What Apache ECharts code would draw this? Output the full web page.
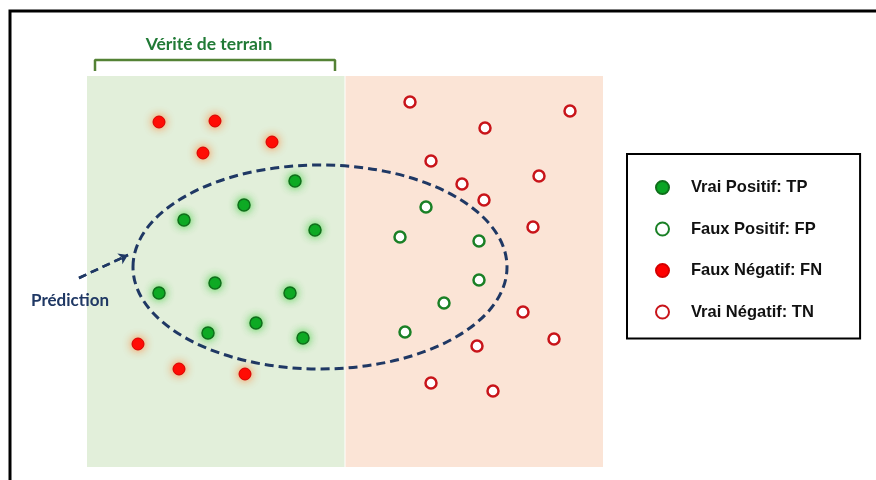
<!DOCTYPE html>
<html><head><meta charset="utf-8">
<script src="https://cdn.jsdelivr.net/npm/echarts@6/dist/echarts.min.js"></script>
<style>html,body{margin:0;padding:0;background:#fff}#c{width:876px;height:480px}</style>
</head><body><div id="c"></div>
<script>
// Data (diagram coordinate space: x 0..876, y 0..480 downward)
const seriesNames = ['Vrai Positif: TP', 'Faux Positif: FP', 'Faux Négatif: FN', 'Vrai Négatif: TN'];
const truePositive = [[295,181],[244,205],[184,220],[315,230],[159,293],[215,283],[290,293],[208,333],[256,323],[303,338]];
const falsePositive = [[426,207],[400,237],[479,241],[479,280],[444,303],[405,332]];
const falseNegative = [[159,122],[215,121],[272,142],[203,153],[138,344],[179,369],[245,374]];
const trueNegative = [[410,102],[570,111],[485,128],[431,161],[539,176],[462,184],[484,200],[533,227],[523,312],[554,339],[477,346],[431,383],[493,391]];
const predictionEllipse = [[320,267,187,102]]; // cx, cy, rx, ry
const groundTruthRegion = [[87,76],[344.5,467]];
const negativeRegion = [[345.5,76],[603,467]];
const bracketPath = [[95,71],[95,60],[335,60],[335,71]];
const arrowPath = [[79,278],[128,255]];
const titleText = 'Vérité de terrain';
const predText = 'Prédiction';

const chart = echarts.init(document.getElementById('c'));
const navy = '#1f3864';
chart.setOption({
  animation: false,
  grid: {left: 0, right: 0, top: 0, bottom: 0},
  xAxis: {type: 'value', min: 0, max: 876, show: false},
  yAxis: {type: 'value', min: 0, max: 480, inverse: true, show: false},
  legend: {
    orient: 'vertical', left: 627, top: 154,
    data: seriesNames,
    itemWidth: 13, itemHeight: 13, itemGap: 24.5,
    padding: [25, 38, 18, 28],
    borderColor: '#000', borderWidth: 2,
    textStyle: {fontFamily: 'Liberation Sans, Arial', fontWeight: 'bold', fontSize: 16.5, color: '#111', padding: [0,0,0,17]}
  },
  graphic: [
    {type: 'rect', shape: {x: 10, y: 11, width: 900, height: 500}, style: {fill: 'none', stroke: '#000', lineWidth: 3}, z: 100},
    {type: 'text', z: 100, style: {text: titleText, x: 209, y: 44, align: 'center', verticalAlign: 'middle', font: 'bold 17.5px Lato', fill: '#217a36'}},
    {type: 'text', z: 100, style: {text: predText, x: 31, y: 301, align: 'left', verticalAlign: 'middle', font: 'bold 17px Lato', fill: navy}}
  ],
  series: [
    {
      type: 'line', data: bracketPath, symbol: 'none', silent: true, z: 1,
      lineStyle: {color: '#548235', width: 2.5},
      markArea: {
        silent: true,
        data: [
          [{xAxis: groundTruthRegion[0][0], yAxis: groundTruthRegion[0][1], itemStyle: {color: '#e2efda'}}, {xAxis: groundTruthRegion[1][0], yAxis: groundTruthRegion[1][1]}],
          [{xAxis: negativeRegion[0][0], yAxis: negativeRegion[0][1], itemStyle: {color: '#fbe4d6'}}, {xAxis: negativeRegion[1][0], yAxis: negativeRegion[1][1]}]
        ]
      }
    },
    {
      type: 'line', data: arrowPath, symbol: 'none', silent: true, z: 3,
      lineStyle: {color: navy, width: 2.5, type: [8, 5]},
      markLine: {
        silent: true, symbol: ['none', 'arrow'], symbolSize: 9, label: {show: false},
        lineStyle: {color: navy, width: 2.5, type: [8, 5]},
        data: [[{coord: arrowPath[0]}, {coord: arrowPath[1]}]]
      }
    },
    {
      type: 'custom', silent: true, z: 3, data: predictionEllipse,
      renderItem: function (params, api) {
        const c = api.coord([api.value(0), api.value(1)]);
        const s = api.size([api.value(2), api.value(3)]);
        return {type: 'ellipse', shape: {cx: c[0], cy: c[1], rx: s[0], ry: s[1]},
          style: {fill: 'none', stroke: navy, lineWidth: 3, lineDash: [9, 5]}};
      }
    },
    {
      name: seriesNames[0], type: 'scatter', data: truePositive, symbolSize: 12, z: 5,
      itemStyle: {opacity: 1, color: '#0aa524', borderColor: '#0f6e1a', borderWidth: 1.5, shadowBlur: 8, shadowColor: 'rgba(40,200,40,0.8)'}
    },
    {
      name: seriesNames[1], type: 'scatter', data: falsePositive, symbolSize: 11, z: 5,
      itemStyle: {opacity: 1, color: '#fff', borderColor: '#1a8026', borderWidth: 2.5}
    },
    {
      name: seriesNames[2], type: 'scatter', data: falseNegative, symbolSize: 12, z: 5,
      itemStyle: {opacity: 1, color: '#ff0000', borderColor: '#d40000', borderWidth: 1, shadowBlur: 8, shadowColor: 'rgba(255,130,50,0.9)'}
    },
    {
      name: seriesNames[3], type: 'scatter', data: trueNegative, symbolSize: 11, z: 5,
      itemStyle: {opacity: 1, color: '#fff', borderColor: '#c8141a', borderWidth: 2.5}
    }
  ]
});
</script></body></html>
